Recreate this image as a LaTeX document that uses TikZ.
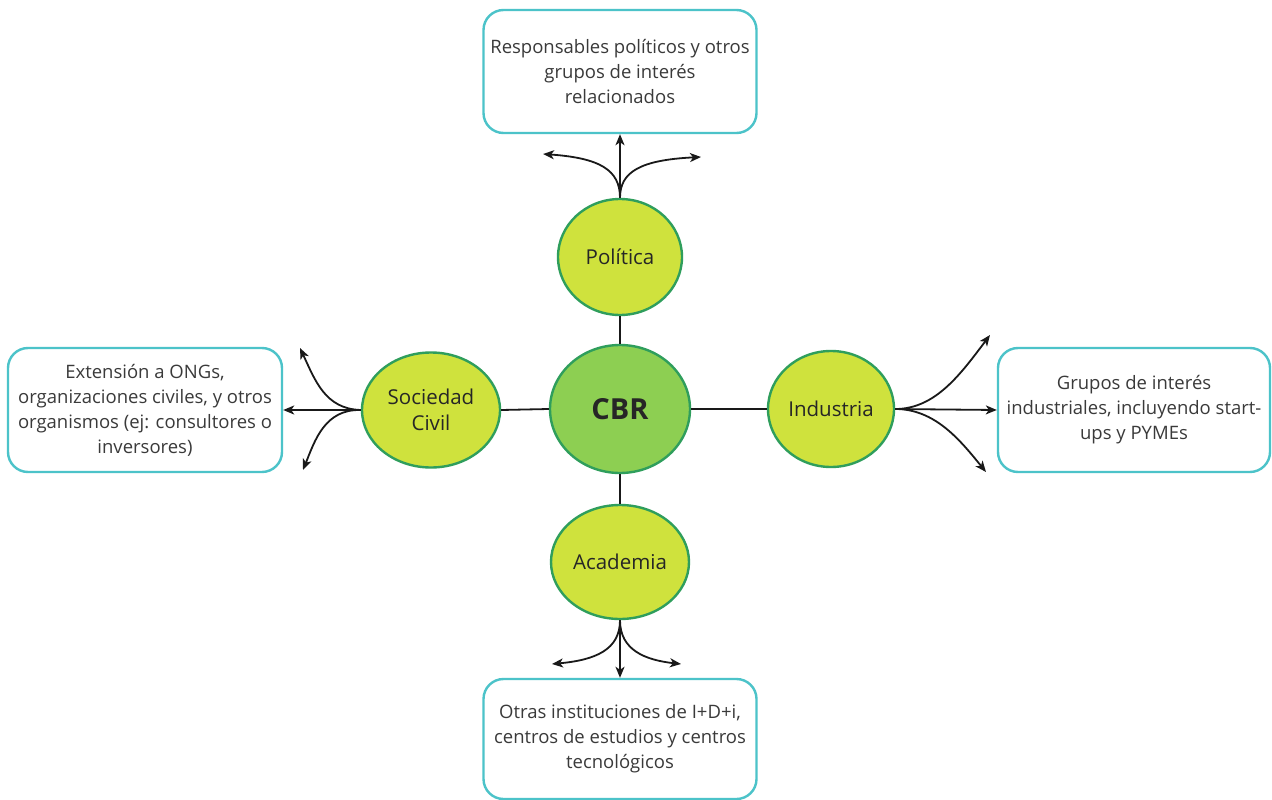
\documentclass[tikz,border=0pt]{standalone}
\usepackage{fontspec}
\setmainfont{Open Sans}
\usetikzlibrary{shapes.geometric,arrows.meta}
\definecolor{boxline}{HTML}{4CC3C9}
\definecolor{hubfill}{HTML}{CFE23D}
\definecolor{hubline}{HTML}{2F9E5C}
\definecolor{corefill}{HTML}{8DCF52}
\definecolor{txt}{HTML}{3A3A3A}
\tikzset{
  infobox/.style={draw=boxline, line width=2.4pt, rounded corners=20pt, fill=white,
    inner sep=0pt, text=txt, align=center,
    font=\fontsize{18.5}{25}\selectfont},
  hub/.style={ellipse, draw=hubline, line width=2.4pt, fill=hubfill, inner sep=0pt,
    text=black!85, align=center, font=\fontsize{20.5}{29}\selectfont},
  core/.style={hub, fill=corefill, font=\fontsize{29}{32}\selectfont\bfseries},
  link/.style={line width=1.8pt, draw=black!90},
  flow/.style={link, -{Stealth[length=11pt,width=9pt,inset=3pt]}}
}
\begin{document}
\begin{tikzpicture}[x=1pt,y=-1pt]
\useasboundingbox[fill=white] (0,0) rectangle (1272,800);

% central node and the four sectors
\node[core, minimum width=140pt, minimum height=128pt] (cbr) at (620,409) {CBR};
\node[hub, minimum width=124pt, minimum height=116pt] (pol) at (620,257) {Política};
\node[hub, minimum width=138pt, minimum height=114pt] (aca) at (620,562) {Academia};
\node[hub, minimum width=138pt, minimum height=115pt] (soc) at (431,410) {Sociedad\\[-3pt]Civil};
\node[hub, minimum width=126pt, minimum height=116pt] (ind) at (831,409) {Industria};

% stakeholder boxes
\node[infobox, minimum width=273pt, minimum height=123pt] (btop) at (620,71.5)
  {Responsables políticos y otros\\grupos de interés\\relacionados};
\node[infobox, minimum width=273pt, minimum height=120pt] (bbot) at (620,739)
  {Otras instituciones de I+D+i,\\centros de estudios y centros\\tecnológicos};
\node[infobox, minimum width=274pt, minimum height=124pt] (bleft) at (145,410)
  {Extensión a ONGs,\\organizaciones civiles, y otros\\organismos (ej: consultores o\\inversores)};
\node[infobox, minimum width=272pt, minimum height=124pt] (bright) at (1134,410)
  {Grupos de interés\\industriales, incluyendo start-\\ups y PYMEs};

% spokes from the centre
\draw[link] (cbr.north) -- (pol.south);
\draw[link] (cbr.south) -- (aca.north);
\draw[link] (cbr.west) -- (soc.east);
\draw[link] (cbr.east) -- (ind.west);

% free ends of the side branches
\coordinate (pl) at (543,154);
\coordinate (pr) at (701,157);
\coordinate (al) at (552,664);
\coordinate (ar) at (681,664);
\coordinate (sl) at (300,348);
\coordinate (sd) at (303,470);
\coordinate (iu) at (990,335);
\coordinate (id) at (986,472);

% Política fan
\draw[flow] (pol.north) -- (btop.south);
\draw[flow] (pol.north) .. controls (620,170) and (600,158) .. (pl);
\draw[flow] (pol.north) .. controls (620,172) and (640,160) .. (pr);

% Academia fan
\draw[flow] (aca.south) -- (bbot.north);
\draw[flow] (aca.south) .. controls (620,650) and (595,660) .. (al);
\draw[flow] (aca.south) .. controls (620,650) and (645,660) .. (ar);

% Sociedad Civil fan
\draw[flow] (soc.west) -- (bleft.east);
\draw[flow] (soc.west) .. controls (325,409) and (315,380) .. (sl);
\draw[flow] (soc.west) .. controls (325,409) and (315,440) .. (sd);

% Industria fan
\draw[flow] (ind.east) -- (bright.west);
\draw[flow] (ind.east) .. controls (935,409) and (960,375) .. (iu);
\draw[flow] (ind.east) .. controls (935,409) and (960,440) .. (id);
\end{tikzpicture}
\end{document}
